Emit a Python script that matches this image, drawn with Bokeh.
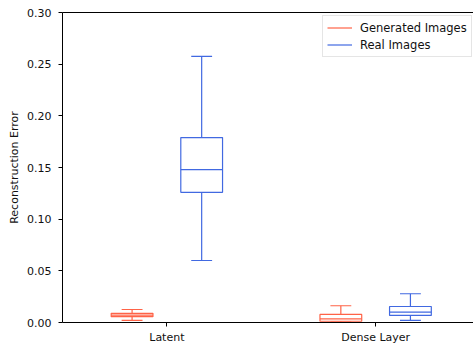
import numpy as np
from bokeh.plotting import figure
from bokeh.models import (Range1d, FixedTicker, LinearAxis, Legend, LegendItem,
                          ColumnDataSource, NumeralTickFormatter)
from bokeh.embed import file_html
from bokeh.resources import INLINE

# ---- data ----
categories = ["Latent", "Dense Layer"]
series = ["Generated Images", "Real Images"]
colors = ["#ff6347", "#4169e1"]

gen_low = [0.0020, 0.0003]
gen_q1 = [0.0056, 0.0012]
gen_med = [0.0072, 0.0035]
gen_q3 = [0.0089, 0.0078]
gen_high = [0.0126, 0.0162]

real_low = [0.0600, 0.0020]
real_q1 = [0.1260, 0.0068]
real_med = [0.1480, 0.0100]
real_q3 = [0.1790, 0.0155]
real_high = [0.2575, 0.0278]

y_ticks = [0.00, 0.05, 0.10, 0.15, 0.20, 0.25, 0.30]

FONT = "DejaVu Sans"

p = figure(width=473, height=343, output_backend="svg", toolbar_location=None,
           x_range=Range1d(0.5, 2.4688), y_range=Range1d(0.0, 0.30),
           min_border_left=62, min_border_top=12, min_border_right=0, min_border_bottom=0)
p.frame_width = 411
p.frame_height = 310
p.outline_line_color = None
p.grid.visible = False
p.background_fill_color = "white"
p.border_fill_color = "white"

base = np.arange(1, len(categories) + 1)
offsets = [-1 / 6, 1 / 6]
box_w = 0.2
cap_w = 0.1

stats = [
    (gen_low, gen_q1, gen_med, gen_q3, gen_high),
    (real_low, real_q1, real_med, real_q3, real_high),
]

items = []
for s, (lo, q1, med, q3, hi) in enumerate(stats):
    x = base + offsets[s]
    src = ColumnDataSource(dict(
        x=x, lo=lo, q1=q1, med=med, q3=q3, hi=hi,
        x0=x - box_w / 2, x1=x + box_w / 2,
        c0=x - cap_w / 2, c1=x + cap_w / 2,
    ))
    c = colors[s]
    lw = 1.2
    p.vbar(x="x", width=box_w, bottom="q1", top="q3", source=src,
           fill_color=None, line_color=c, line_width=lw)
    w = p.segment(x0="x", y0="q3", x1="x", y1="hi", source=src, line_color=c, line_width=lw)
    p.segment(x0="x", y0="lo", x1="x", y1="q1", source=src, line_color=c, line_width=lw)
    p.segment(x0="c0", y0="hi", x1="c1", y1="hi", source=src, line_color=c, line_width=lw)
    p.segment(x0="c0", y0="lo", x1="c1", y1="lo", source=src, line_color=c, line_width=lw)
    p.segment(x0="x0", y0="med", x1="x1", y1="med", source=src, line_color=c, line_width=lw)
    items.append(LegendItem(label=series[s], renderers=[w]))

# axes styling
for ax in (p.xaxis[0], p.yaxis[0]):
    ax.axis_line_color = "black"
    ax.major_tick_line_color = "black"
    ax.major_tick_out = 4
    ax.major_tick_in = 0
    ax.minor_tick_line_color = None
    ax.major_label_text_font = FONT
    ax.major_label_text_font_size = "11px"
    ax.major_label_text_color = "#111111"

p.xaxis[0].ticker = FixedTicker(ticks=list(base))
p.xaxis[0].major_label_overrides = {int(b): c for b, c in zip(base, categories)}
p.xaxis[0].major_label_standoff = 4

p.yaxis[0].ticker = FixedTicker(ticks=y_ticks)
p.yaxis[0].formatter = NumeralTickFormatter(format="0.00")
p.yaxis[0].major_label_standoff = 7
p.yaxis[0].axis_label = "Reconstruction Error"
p.yaxis[0].axis_label_text_font = FONT
p.yaxis[0].axis_label_text_font_size = "11px"
p.yaxis[0].axis_label_text_font_style = "normal"
p.yaxis[0].axis_label_text_color = "#111111"
p.yaxis[0].axis_label_standoff = 3

# top spine
top = LinearAxis(ticker=FixedTicker(ticks=[]), major_label_text_font_size="0px",
                 major_tick_out=0, major_tick_in=0, minor_tick_out=0, minor_tick_in=0,
                 major_label_standoff=0, axis_line_color="black")
p.add_layout(top, "above")

legend = Legend(items=items, location=(260, 265))
legend.label_text_font = FONT
legend.label_text_font_size = "11.5px"
legend.label_text_color = "#111111"
legend.glyph_width = 25
legend.glyph_height = 15
legend.label_height = 15
legend.label_standoff = 8
legend.spacing = 2
legend.padding = 4
legend.margin = 0
legend.border_line_color = "#cccccc"
legend.background_fill_alpha = 0.9
p.add_layout(legend)

open("out.html", "w").write(file_html(p, INLINE))
